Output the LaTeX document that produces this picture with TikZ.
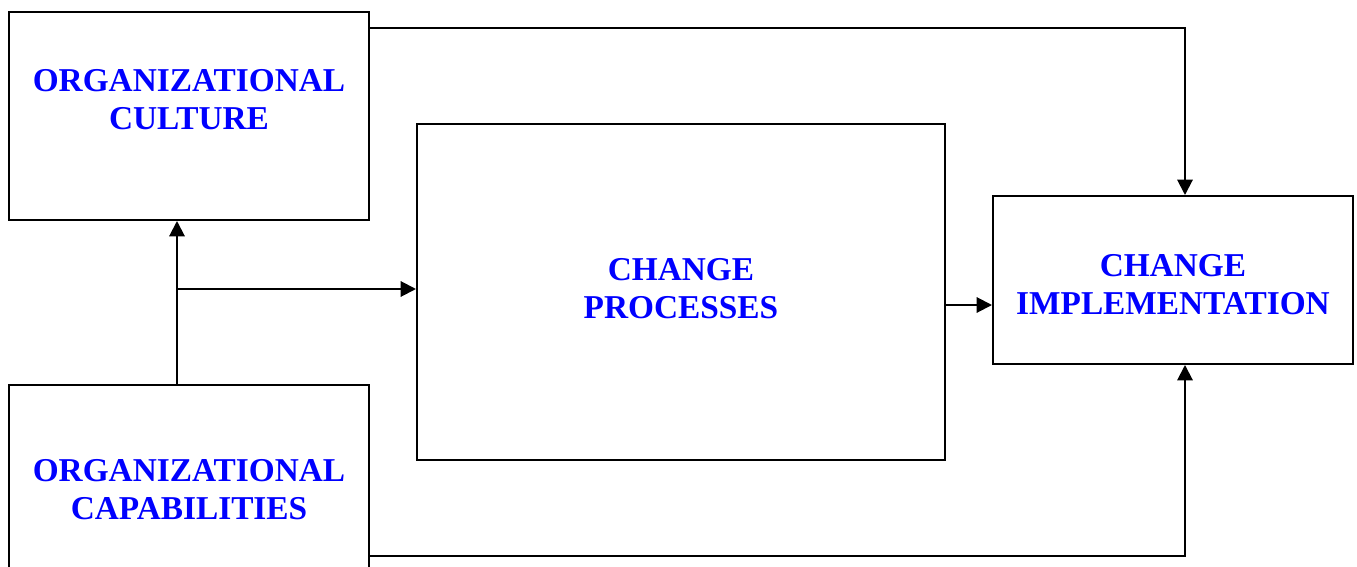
\documentclass[tikz,border=0pt]{standalone}
\usepackage{fontspec}
\setmainfont{Liberation Serif}
\usetikzlibrary{arrows.meta}
\begin{document}
\begin{tikzpicture}[x=0.75pt, y=-0.75pt,
  box/.style={draw=black, line width=1.5pt, rectangle, inner sep=0pt, fill=white},
  lbl/.style={align=center, inner sep=0pt, text=blue,
    font=\fontsize{25}{28.5}\selectfont\bfseries},
  arr/.style={draw=black, line width=1.5pt,
    -{Triangle[length=11.5pt, width=11.5pt]}}]
  \useasboundingbox (0,0) rectangle (1357,567);
  \clip (0,0) rectangle (1357,567);

  % boxes
  \node[box, minimum width=270pt, minimum height=156pt] (culture) at (189,116) {};
  \node[box, minimum width=270pt, minimum height=180pt] (caps) at (189,505) {};
  \node[box, minimum width=396pt, minimum height=252pt] (proc) at (681,292) {};
  \node[box, minimum width=270pt, minimum height=126pt] (impl) at (1173,280) {};

  % labels
  \node[lbl] (tculture) at (189,100) {ORGANIZATIONAL\\CULTURE};
  \node[lbl] (tcaps) at (189,490) {ORGANIZATIONAL\\CAPABILITIES};
  \node[lbl] (tproc) at (681,289) {CHANGE\\PROCESSES};
  \node[lbl] (timpl) at (1173,285) {CHANGE\\IMPLEMENTATION};

  % routing helpers
  \coordinate (v) at (177,289);
  \coordinate (topline) at (0,28);
  \coordinate (midline) at (0,305);
  \coordinate (botline) at (0,556);
  \coordinate (rail) at (1185,0);

  % connectors
  \draw[arr] (culture.east |- topline) -| (rail |- impl.north);
  \draw[arr] (v |- caps.north) -- (v |- culture.south);
  \draw[arr] (v) -- (v -| proc.west);
  \draw[arr] (proc.east |- midline) -- (impl.west |- midline);
  \draw[arr] (caps.east |- botline) -| (rail |- impl.south);
\end{tikzpicture}
\end{document}
